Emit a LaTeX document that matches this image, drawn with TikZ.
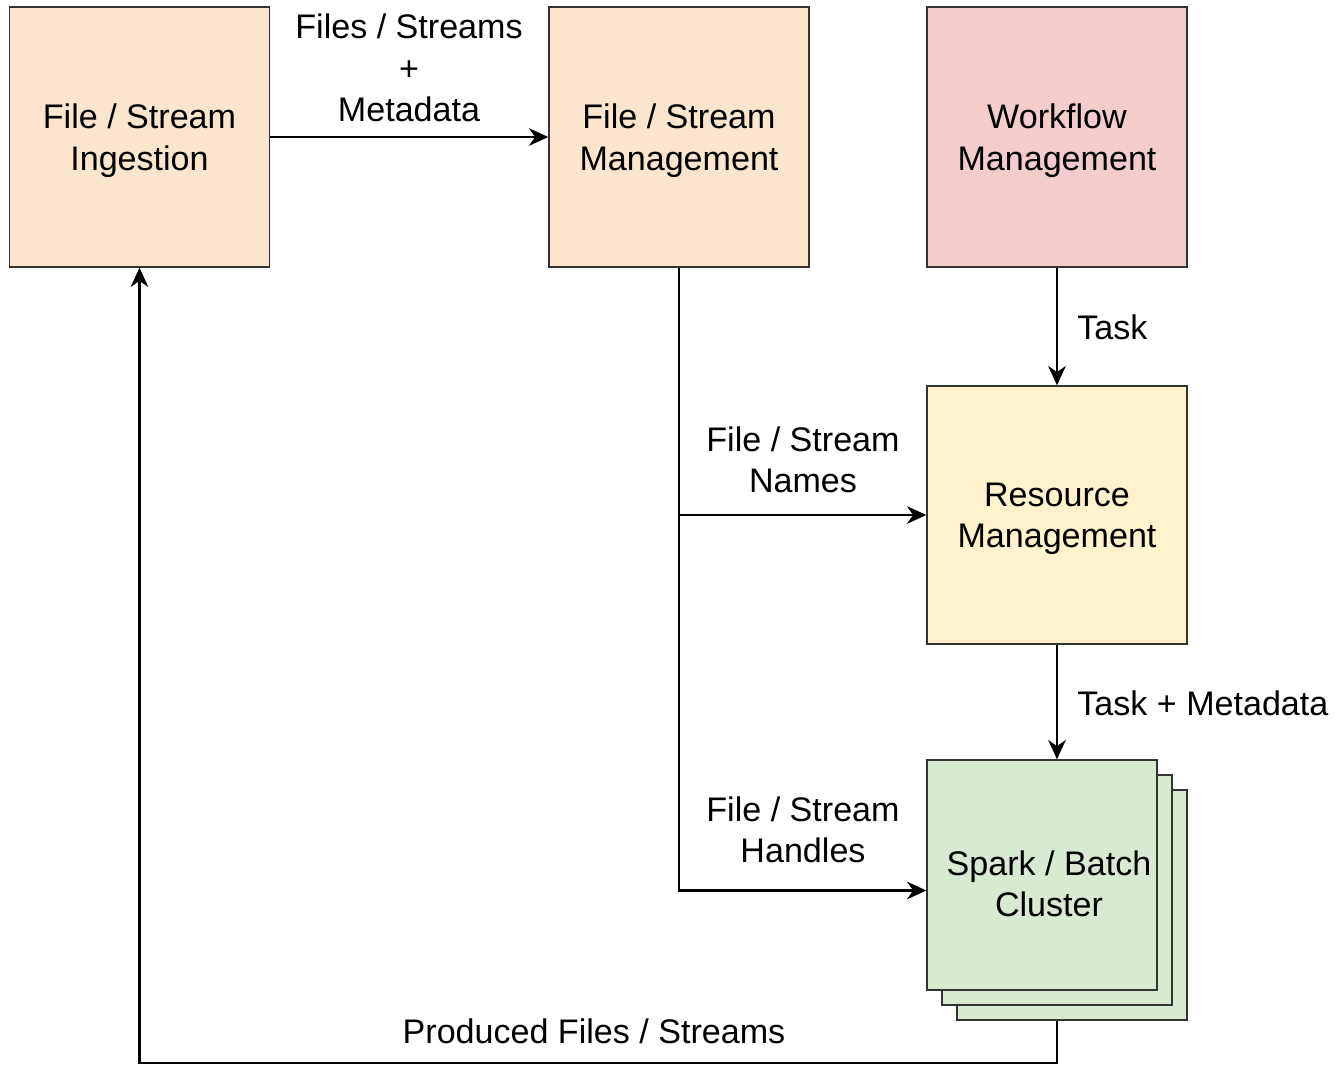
\documentclass[tikz,border=0pt]{standalone}
\usepackage{fontspec}
\setmainfont{Liberation Sans}
\usetikzlibrary{arrows.meta}
\definecolor{peach}{HTML}{FCE5CD}
\definecolor{rose}{HTML}{F4CCCC}
\definecolor{cream}{HTML}{FFF2CC}
\definecolor{mint}{HTML}{D9EAD3}
\begin{document}
\begin{tikzpicture}[x=0.02cm,y=-0.02cm,
  box/.style={draw=black!80, line width=0.8pt, minimum width=5.2cm, minimum height=5.2cm,
    inner sep=0pt, text depth=0pt, align=center, font=\fontsize{19.4}{23.5}\selectfont},
  lbl/.style={align=center, inner sep=0pt, font=\fontsize{19.4}{23.5}\selectfont},
  conn/.style={line width=1.4pt, -{Stealth[length=11pt,width=10pt,inset=3.5pt]}}]
\useasboundingbox (0,0) rectangle (1340,1066);
\node[box, fill=peach] (ingest) at (139.5,137) {File / Stream\\Ingestion};
\node[box, fill=peach] (fsm) at (679,137) {File / Stream\\Management};
\node[box, fill=rose] (wflow) at (1057,137) {Workflow\\Management};
\node[box, fill=cream, minimum height=5.16cm] (res) at (1057,515) {Resource\\Management};
% stacked cluster
\node[box, fill=mint, minimum width=4.6cm, minimum height=4.6cm] (spark3) at (1072,905) {};
\node[box, fill=mint, minimum width=4.6cm, minimum height=4.6cm] (spark2) at (1057,890) {};
\node[box, fill=mint, minimum width=4.6cm, minimum height=4.6cm] (spark) at (1042,875) {};
\node[lbl] (sparklbl) at (1049,884) {Spark / Batch\\Cluster};
\node[lbl] (lfiles) at (409,68) {Files / Streams\\+\\Metadata};
\node[lbl] (lnames) at (803,460) {File / Stream\\Names};
\node[lbl] (lhandles) at (803,830) {File / Stream\\Handles};
\node[lbl, anchor=west] (ltask) at (1077,327) {Task};
\node[lbl, anchor=west] (ltaskmeta) at (1077,703) {Task + Metadata};
\node[lbl] (lprod) at (594,1031) {Produced Files / Streams};
\coordinate (bend) at (1057,1063);
\draw[conn] (ingest) -- (fsm);
\draw[conn] (wflow) -- (res);
\draw[conn] (res.south) -- (res.south |- spark.north);
\draw[conn] (fsm.south) |- ([yshift=-0.31cm]spark.west);
\draw[conn] (fsm.south |- res.west) -- (res.west);
\draw[conn] (res.south |- spark3.south) -- (bend) -| (ingest.south);
\end{tikzpicture}
\end{document}
